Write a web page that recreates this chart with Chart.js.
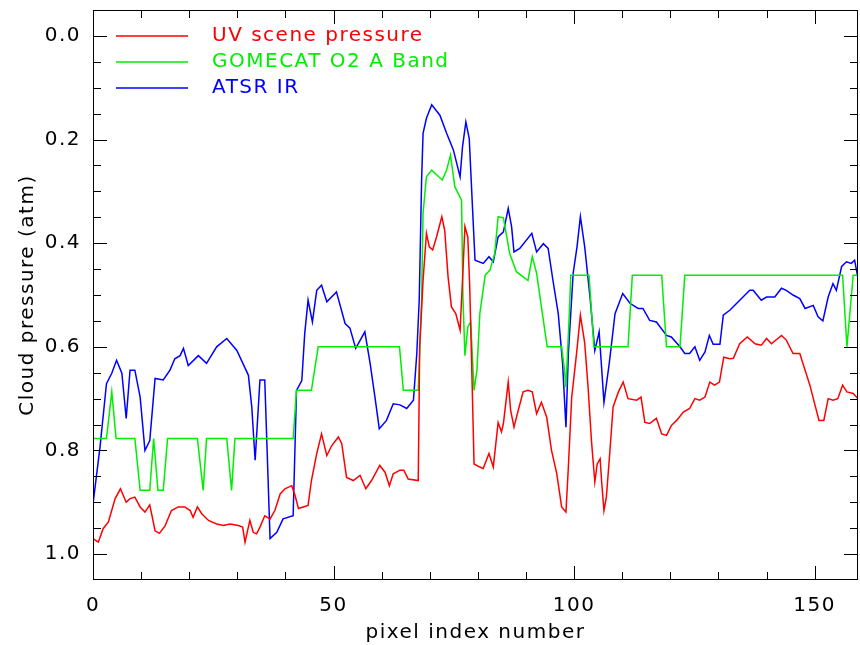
<!DOCTYPE html>
<html lang="en">
<head>
  <meta charset="UTF-8" />
  <title>Cloud pressure along track</title>
  <script src="https://cdn.jsdelivr.net/npm/chart.js"></script>
  <style>
    html, body { margin: 0; padding: 0; background: white; }
    #wrap { width: 860px; height: 645px; }
  </style>
</head>
<body>
  <div id="wrap"><canvas id="cloudChart" width="860" height="645"></canvas></div>

  <script>
    const xTicks = [0, 50, 100, 150];
    const yTicks = [0.0, 0.2, 0.4, 0.6, 0.8, 1.0];
    const seriesNames = ['UV scene pressure', 'GOMECAT O2 A Band', 'ATSR IR'];
    const seriesColors = ['#ff0000', '#00ee00', '#0000ff'];

    // [pixel index, cloud pressure (atm)]
    const uvScene = [
      [0,0.970],[1.1,0.977],[2.1,0.951],[3.2,0.938],[4.6,0.893],[5.7,0.874],[6.9,0.900],[7.7,0.893],
      [8.7,0.890],[9.8,0.909],[10.8,0.919],[11.8,0.905],[12.9,0.955],[13.8,0.960],[15,0.945],[16.3,0.916],
      [17.7,0.909],[19.1,0.909],[20.2,0.916],[20.8,0.929],[21.7,0.909],[22.6,0.922],[24,0.935],[25.7,0.942],
      [27.1,0.945],[28.5,0.942],[30.2,0.945],[31.1,0.948],[31.6,0.977],[32.6,0.935],[33.3,0.958],[34,0.961],
      [34.7,0.948],[35.7,0.926],[36.8,0.932],[37.8,0.916],[38.9,0.884],[39.9,0.874],[41.3,0.868],[42,0.887],
      [42.7,0.912],[43.7,0.909],[44.7,0.906],[45.4,0.858],[46.5,0.806],[47.5,0.768],[48.6,0.810],[49.6,0.791],
      [51,0.774],[51.7,0.787],[52.7,0.852],[54.1,0.858],[55.5,0.848],[56.7,0.874],[57.9,0.858],[59.6,0.829],
      [60.7,0.842],[61.6,0.868],[62.4,0.845],[63.8,0.838],[64.6,0.838],[65.5,0.855],[67.6,0.858],[67.9,0.600],
      [68.6,0.472],[69.3,0.381],[69.9,0.407],[70.6,0.413],[71.4,0.388],[72.5,0.349],[73.1,0.375],[73.8,0.465],
      [74.5,0.523],[75.4,0.536],[76.3,0.568],[76.8,0.472],[77.3,0.368],[77.9,0.388],[78.3,0.484],[78.7,0.632],
      [79.2,0.826],[80.4,0.832],[81.1,0.835],[82.3,0.806],[83.2,0.832],[84.2,0.746],[84.9,0.764],[85.3,0.748],
      [86.3,0.668],[86.8,0.722],[87.5,0.755],[88.4,0.722],[89.4,0.687],[90.4,0.684],[91.3,0.687],[92.2,0.729],
      [93.2,0.707],[94.3,0.736],[95.3,0.800],[96.4,0.845],[97.4,0.909],[98.3,0.919],[98.8,0.832],[99.5,0.697],
      [100.5,0.613],[101.3,0.539],[102.2,0.593],[102.9,0.678],[103.6,0.781],[104.3,0.861],[104.8,0.826],[105.4,0.816],
      [105.7,0.858],[106.2,0.916],[106.7,0.890],[107.4,0.806],[108.1,0.716],[109.2,0.687],[110.2,0.668],[111.2,0.700],
      [113,0.703],[113.9,0.697],[114.7,0.746],[115.7,0.748],[117.1,0.738],[118.2,0.768],[119.2,0.771],[120.2,0.752],
      [121.3,0.742],[122.7,0.726],[124,0.719],[125.1,0.700],[126.1,0.703],[127.2,0.697],[128.2,0.668],[129.2,0.674],
      [130.2,0.668],[131.1,0.620],[132.4,0.623],[133.1,0.622],[134.4,0.594],[136,0.581],[137.6,0.594],[138.9,0.597],
      [140,0.584],[141,0.594],[143.1,0.578],[144.1,0.587],[145.5,0.613],[146.9,0.613],[148,0.645],[149,0.674],
      [150,0.710],[150.9,0.742],[151.9,0.742],[152.8,0.700],[153.8,0.703],[154.8,0.700],[155.8,0.674],[156.7,0.687],
      [158,0.690],[159,0.700]
    ];

    const gomecat = [
      [0,0.777],[2.8,0.777],[3.9,0.687],[4.8,0.777],[8.7,0.777],[9.8,0.877],[11.8,0.877],[12.6,0.777],
      [13.5,0.877],[14.6,0.877],[15.5,0.777],[21.7,0.777],[22.9,0.877],[23.6,0.777],[27.8,0.777],[28.8,0.877],
      [29.5,0.777],[41.6,0.777],[42.3,0.684],[45.4,0.684],[46.8,0.600],[63.7,0.600],[64.5,0.684],[67.6,0.684],
      [68.3,0.508],[68.6,0.342],[69.3,0.272],[70.4,0.259],[71.4,0.268],[72.6,0.278],[73.5,0.259],[74.3,0.230],
      [75.2,0.291],[76.6,0.317],[76.9,0.508],[77.3,0.617],[77.9,0.562],[78.5,0.552],[79.2,0.684],[79.8,0.645],
      [80.4,0.536],[81.5,0.462],[82.5,0.452],[83.5,0.420],[84.2,0.349],[85.3,0.351],[86,0.388],[86.6,0.420],
      [88,0.455],[89.4,0.465],[90.4,0.472],[91.3,0.426],[92.2,0.458],[93.2,0.523],[94.4,0.600],[97.4,0.600],
      [98,0.645],[98.3,0.678],[99,0.536],[99.3,0.462],[103.1,0.462],[104.1,0.600],[111.2,0.600],[112.1,0.462],
      [118.2,0.462],[119.2,0.600],[122,0.600],[123,0.462],[155.8,0.462],[156.7,0.600],[158,0.462],[159,0.462]
    ];

    const atsr = [
      [0,0.903],[1.45,0.794],[2.8,0.671],[3.9,0.651],[4.9,0.626],[6.0,0.651],[6.9,0.738],[7.7,0.645],
      [8.7,0.645],[9.8,0.697],[10.8,0.800],[11.8,0.781],[12.9,0.661],[14.6,0.664],[16,0.645],[17,0.623],
      [18.1,0.617],[18.8,0.603],[19.8,0.636],[21.9,0.617],[23.6,0.632],[25.7,0.600],[27.8,0.584],[29.9,0.607],
      [32.3,0.655],[33,0.716],[33.7,0.819],[34.7,0.664],[35.7,0.664],[36.8,0.970],[38.2,0.958],[39.5,0.932],
      [41.6,0.926],[42.3,0.684],[43.4,0.665],[44,0.575],[44.7,0.510],[45.6,0.552],[46.5,0.491],[47.5,0.481],
      [48.6,0.513],[50.6,0.494],[52.4,0.555],[53.4,0.564],[54.6,0.603],[56.5,0.571],[57.6,0.632],[58.6,0.697],
      [59.5,0.758],[61,0.742],[62.4,0.710],[63.8,0.712],[65.2,0.719],[66.6,0.703],[67.3,0.613],[67.8,0.510],
      [68.3,0.278],[68.6,0.188],[69.3,0.159],[70.4,0.133],[72.1,0.153],[73.5,0.188],[74.9,0.220],[76.3,0.272],
      [76.8,0.214],[77.5,0.166],[78.2,0.198],[78.9,0.336],[79.4,0.433],[81.1,0.439],[82.3,0.426],[83.2,0.436],
      [84.2,0.388],[85.3,0.378],[86.3,0.333],[87,0.368],[87.5,0.417],[88.7,0.410],[91.2,0.381],[92.2,0.417],
      [93.6,0.401],[94.6,0.410],[95.6,0.472],[96.7,0.536],[97.6,0.632],[98.3,0.755],[98.8,0.613],[99.8,0.458],
      [100.6,0.407],[101.3,0.349],[102.2,0.407],[103.3,0.504],[104.3,0.607],[105.2,0.571],[106.2,0.707],[107.3,0.632],
      [108.5,0.536],[110.1,0.497],[111.6,0.516],[113.3,0.526],[114.3,0.526],[115.7,0.549],[117.1,0.552],[119.2,0.578],
      [120.2,0.581],[122,0.600],[123,0.613],[124,0.613],[125.1,0.600],[126.1,0.626],[127.2,0.610],[128.1,0.578],
      [128.9,0.595],[130.3,0.595],[131,0.539],[132.4,0.529],[133.8,0.516],[135.1,0.504],[136.5,0.491],[137.2,0.491],
      [138.9,0.510],[140,0.504],[141.7,0.504],[143.1,0.487],[144.1,0.491],[145.5,0.500],[146.9,0.507],[148,0.526],
      [149.7,0.520],[150.7,0.542],[151.7,0.550],[152.8,0.504],[153.8,0.478],[154.5,0.491],[155.6,0.445],[156.6,0.436],
      [157.6,0.439],[158.3,0.433],[159,0.468]
    ];

    Chart.defaults.font.family = "'DejaVu Sans', sans-serif";
    Chart.defaults.font.size = 20;
    Chart.defaults.color = '#000';

    function toPoints(pairs) {
      return pairs.map(p => ({ x: p[0], y: p[1] }));
    }

    // box around the plot with IDL-style inward ticks on all four sides, plus the legend
    const framePlugin = {
      id: 'frame',
      beforeDraw(chart) {
        chart.ctx.letterSpacing = '1.5px';
      },
      afterDatasetsDraw(chart) {
        const { ctx, chartArea: a, scales: { x, y } } = chart;
        ctx.save();
        ctx.strokeStyle = '#000';
        ctx.lineWidth = 1;
        ctx.strokeRect(a.left + 0.5, a.top + 0.5, a.right - a.left - 1, a.bottom - a.top - 1);

        ctx.beginPath();
        for (let v = 0; v <= 159; v += 10) {
          const px = Math.round(x.getPixelForValue(v)) + 0.5;
          const len = v % 50 === 0 ? 14 : 8;
          ctx.moveTo(px, a.bottom); ctx.lineTo(px, a.bottom - len);
          ctx.moveTo(px, a.top); ctx.lineTo(px, a.top + len);
        }
        for (let i = 0; i <= 20; i++) {
          const py = Math.round(y.getPixelForValue(i * 0.05)) + 0.5;
          const len = i % 4 === 0 ? 14 : 8;
          ctx.moveTo(a.left, py); ctx.lineTo(a.left + len, py);
          ctx.moveTo(a.right, py); ctx.lineTo(a.right - len, py);
        }
        ctx.stroke();

        ctx.font = "20px 'DejaVu Sans', sans-serif";
        ctx.textBaseline = 'middle';
        ctx.textAlign = 'left';
        chart.data.datasets.forEach((ds, i) => {
          const ly = a.top + 26 + i * 26;
          ctx.strokeStyle = ds.borderColor;
          ctx.lineWidth = 1.5;
          ctx.beginPath();
          ctx.moveTo(a.left + 23, ly);
          ctx.lineTo(a.left + 95, ly);
          ctx.stroke();
          ctx.fillStyle = ds.borderColor;
          ctx.fillText(ds.label, a.left + 119, ly);
        });
        ctx.restore();
      }
    };

    const seriesData = [uvScene, gomecat, atsr];

    new Chart(document.getElementById('cloudChart'), {
      type: 'line',
      data: {
        datasets: seriesData.map((pairs, i) => ({
          label: seriesNames[i],
          data: toPoints(pairs),
          borderColor: seriesColors[i],
          borderWidth: 1.5,
          pointRadius: 0,
          tension: 0,
          fill: false
        }))
      },
      options: {
        responsive: false,
        animation: false,
        layout: { padding: { top: 10, right: 2, left: 0, bottom: 0 } },
        plugins: {
          legend: { display: false },
          tooltip: { enabled: false }
        },
        scales: {
          x: {
            type: 'linear',
            min: 0,
            max: 159,
            afterBuildTicks: s => { s.ticks = xTicks.map(v => ({ value: v })); },
            afterFit: s => { s.height = 65; s.paddingLeft = 0; s.paddingRight = 0; },
            ticks: { padding: 14, maxRotation: 0 },
            grid: { display: false, drawTicks: false },
            border: { display: false },
            title: { display: true, text: 'pixel index number', padding: { top: 2, bottom: 0 } }
          },
          y: {
            type: 'linear',
            reverse: true,
            min: -0.05,
            max: 1.05,
            afterBuildTicks: s => { s.ticks = yTicks.map(v => ({ value: v })); },
            afterFit: s => { s.width = 93; s.paddingTop = 0; s.paddingBottom = 0; },
            ticks: { padding: 12, callback: v => v.toFixed(1) },
            grid: { display: false, drawTicks: false },
            border: { display: false },
            title: { display: true, text: 'Cloud pressure (atm)', padding: { top: 16, bottom: 0 } }
          }
        }
      },
      plugins: [framePlugin]
    });
  </script>
</body>
</html>
